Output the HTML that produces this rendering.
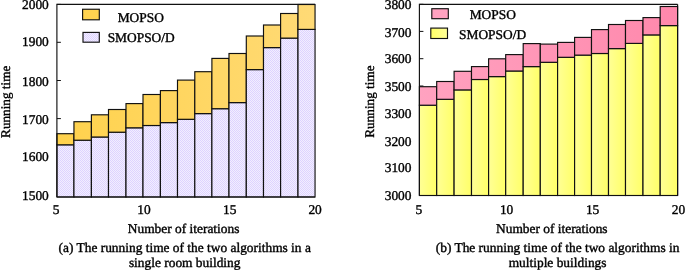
<!DOCTYPE html>
<html><head><meta charset="utf-8"><style>
html,body{margin:0;padding:0;background:#fff;}
body{width:685px;height:271px;overflow:hidden;}
svg{display:block;font-family:"Liberation Serif", serif;font-size:13.4px;fill:#000;will-change:transform;}
svg text{fill:#000;stroke:#000;stroke-width:0.38px;text-rendering:geometricPrecision;}
</style></head><body>
<svg width="685" height="271" viewBox="0 0 685 271">
<defs>
<pattern id="lav" width="2" height="2" patternUnits="userSpaceOnUse">
<rect width="2" height="2" fill="#F2EEFF"/><rect width="1" height="1" fill="#DED3FF"/><rect x="1" y="1" width="1" height="1" fill="#DED3FF"/>
</pattern>
<linearGradient id="yel" x1="0" y1="0" x2="1" y2="0">
<stop offset="0" stop-color="#FFFF96"/><stop offset="1" stop-color="#FFFF68"/>
</linearGradient>
<linearGradient id="yelL" x1="0" y1="0" x2="1" y2="0">
<stop offset="0" stop-color="#FFFF66"/><stop offset="1" stop-color="#FFFF9A"/>
</linearGradient>
<linearGradient id="org" gradientUnits="userSpaceOnUse" x1="56.9" y1="0" x2="315.05" y2="0">
<stop offset="0" stop-color="#FFD24C"/><stop offset="1" stop-color="#FFDA76"/>
</linearGradient>
<linearGradient id="pnk" gradientUnits="userSpaceOnUse" x1="419.4" y1="0" x2="677.6" y2="0">
<stop offset="0" stop-color="#FFA2C0"/><stop offset="1" stop-color="#FF88AC"/>
</linearGradient>
</defs>
<path d="M56.9 4.4 L60.9 4.4" stroke="#111" stroke-width="1"/>
<path d="M56.9 42.3 L60.9 42.3" stroke="#111" stroke-width="1"/>
<path d="M56.9 80.5 L60.9 80.5" stroke="#111" stroke-width="1"/>
<path d="M56.9 118.6 L60.9 118.6" stroke="#111" stroke-width="1"/>
<path d="M56.9 157.0 L60.9 157.0" stroke="#111" stroke-width="1"/>
<path d="M56.9 195.4 L60.9 195.4" stroke="#111" stroke-width="1"/>
<rect x="56.90" y="144.80" width="17.05" height="52.20" fill="url(#lav)" stroke="#111" stroke-width="1.15"/>
<rect x="56.90" y="133.70" width="17.05" height="11.10" fill="url(#org)" stroke="#111" stroke-width="1.15"/>
<rect x="73.95" y="140.20" width="17.45" height="56.80" fill="url(#lav)" stroke="#111" stroke-width="1.15"/>
<rect x="73.95" y="121.70" width="17.45" height="18.50" fill="url(#org)" stroke="#111" stroke-width="1.15"/>
<rect x="91.40" y="137.00" width="17.10" height="60.00" fill="url(#lav)" stroke="#111" stroke-width="1.15"/>
<rect x="91.40" y="114.80" width="17.10" height="22.20" fill="url(#org)" stroke="#111" stroke-width="1.15"/>
<rect x="108.50" y="132.20" width="17.50" height="64.80" fill="url(#lav)" stroke="#111" stroke-width="1.15"/>
<rect x="108.50" y="109.50" width="17.50" height="22.70" fill="url(#org)" stroke="#111" stroke-width="1.15"/>
<rect x="126.00" y="127.80" width="17.00" height="69.20" fill="url(#lav)" stroke="#111" stroke-width="1.15"/>
<rect x="126.00" y="103.60" width="17.00" height="24.20" fill="url(#org)" stroke="#111" stroke-width="1.15"/>
<rect x="143.00" y="125.50" width="17.40" height="71.50" fill="url(#lav)" stroke="#111" stroke-width="1.15"/>
<rect x="143.00" y="94.50" width="17.40" height="31.00" fill="url(#org)" stroke="#111" stroke-width="1.15"/>
<rect x="160.40" y="122.60" width="17.10" height="74.40" fill="url(#lav)" stroke="#111" stroke-width="1.15"/>
<rect x="160.40" y="90.60" width="17.10" height="32.00" fill="url(#org)" stroke="#111" stroke-width="1.15"/>
<rect x="177.50" y="119.30" width="17.30" height="77.70" fill="url(#lav)" stroke="#111" stroke-width="1.15"/>
<rect x="177.50" y="80.10" width="17.30" height="39.20" fill="url(#org)" stroke="#111" stroke-width="1.15"/>
<rect x="194.80" y="113.60" width="17.10" height="83.40" fill="url(#lav)" stroke="#111" stroke-width="1.15"/>
<rect x="194.80" y="71.70" width="17.10" height="41.90" fill="url(#org)" stroke="#111" stroke-width="1.15"/>
<rect x="211.90" y="108.70" width="17.10" height="88.30" fill="url(#lav)" stroke="#111" stroke-width="1.15"/>
<rect x="211.90" y="58.40" width="17.10" height="50.30" fill="url(#org)" stroke="#111" stroke-width="1.15"/>
<rect x="229.00" y="102.60" width="17.30" height="94.40" fill="url(#lav)" stroke="#111" stroke-width="1.15"/>
<rect x="229.00" y="53.50" width="17.30" height="49.10" fill="url(#org)" stroke="#111" stroke-width="1.15"/>
<rect x="246.30" y="69.60" width="17.20" height="127.40" fill="url(#lav)" stroke="#111" stroke-width="1.15"/>
<rect x="246.30" y="36.00" width="17.20" height="33.60" fill="url(#org)" stroke="#111" stroke-width="1.15"/>
<rect x="263.50" y="47.60" width="17.10" height="149.40" fill="url(#lav)" stroke="#111" stroke-width="1.15"/>
<rect x="263.50" y="25.00" width="17.10" height="22.60" fill="url(#org)" stroke="#111" stroke-width="1.15"/>
<rect x="280.60" y="38.10" width="17.40" height="158.90" fill="url(#lav)" stroke="#111" stroke-width="1.15"/>
<rect x="280.60" y="13.50" width="17.40" height="24.60" fill="url(#org)" stroke="#111" stroke-width="1.15"/>
<rect x="298.00" y="29.40" width="17.05" height="167.60" fill="url(#lav)" stroke="#111" stroke-width="1.15"/>
<rect x="298.00" y="4.50" width="17.05" height="24.90" fill="url(#org)" stroke="#111" stroke-width="1.15"/>
<path d="M56.9 197.0 L56.9 4.4 L315.05 4.4" fill="none" stroke="#111" stroke-width="1.15"/>
<path d="M56.9 197.0 L315.05 197.0" fill="none" stroke="#111" stroke-width="1.15"/>
<text x="48.8" y="9.00" text-anchor="end">2000</text>
<text x="48.8" y="46.00" text-anchor="end">1900</text>
<text x="48.8" y="86.00" text-anchor="end">1800</text>
<text x="48.8" y="124.00" text-anchor="end">1700</text>
<text x="48.8" y="161.00" text-anchor="end">1600</text>
<text x="48.8" y="200.00" text-anchor="end">1500</text>
<text x="56.1" y="213.6" text-anchor="middle">5</text>
<text x="144.0" y="213.6" text-anchor="middle">10</text>
<text x="229.7" y="213.6" text-anchor="middle">15</text>
<text x="315.1" y="213.6" text-anchor="middle">20</text>
<text x="183.6" y="232.6" text-anchor="middle">Number of iterations</text>
<text x="184.7" y="251.9" text-anchor="middle">(a) The running time of the two algorithms in a</text>
<text x="184.7" y="267.3" text-anchor="middle">single room building</text>
<text transform="translate(9.9 101.8) rotate(-90)" x="0" y="0" text-anchor="middle" style="font-size:13.2px">Running time</text>
<rect x="82.60" y="9.25" width="16.70" height="10.55" fill="#FFD350" stroke="#111" stroke-width="1.15"/>
<rect x="83.00" y="32.40" width="16.30" height="9.80" fill="url(#lav)" stroke="#111" stroke-width="1.15"/>
<text x="140.75" y="21.9" text-anchor="middle">MOPSO</text>
<text x="141.15" y="41.8" text-anchor="middle">SMOPSO/D</text>
<path d="M419.4 4.3 L423.4 4.3" stroke="#111" stroke-width="1"/>
<path d="M419.4 31.4 L423.4 31.4" stroke="#111" stroke-width="1"/>
<path d="M419.4 58.7 L423.4 58.7" stroke="#111" stroke-width="1"/>
<path d="M419.4 86.0 L423.4 86.0" stroke="#111" stroke-width="1"/>
<path d="M419.4 113.3 L423.4 113.3" stroke="#111" stroke-width="1"/>
<path d="M419.4 140.6 L423.4 140.6" stroke="#111" stroke-width="1"/>
<path d="M419.4 167.9 L423.4 167.9" stroke="#111" stroke-width="1"/>
<path d="M419.4 195.2 L423.4 195.2" stroke="#111" stroke-width="1"/>
<rect x="419.40" y="105.20" width="17.30" height="90.30" fill="url(#yel)" stroke="#111" stroke-width="1.15"/>
<rect x="419.40" y="86.70" width="17.30" height="18.50" fill="url(#pnk)" stroke="#111" stroke-width="1.15"/>
<rect x="436.70" y="99.30" width="17.40" height="96.20" fill="url(#yel)" stroke="#111" stroke-width="1.15"/>
<rect x="436.70" y="81.50" width="17.40" height="17.80" fill="url(#pnk)" stroke="#111" stroke-width="1.15"/>
<rect x="454.10" y="89.90" width="17.40" height="105.60" fill="url(#yel)" stroke="#111" stroke-width="1.15"/>
<rect x="454.10" y="71.30" width="17.40" height="18.60" fill="url(#pnk)" stroke="#111" stroke-width="1.15"/>
<rect x="471.50" y="79.50" width="17.10" height="116.00" fill="url(#yel)" stroke="#111" stroke-width="1.15"/>
<rect x="471.50" y="66.60" width="17.10" height="12.90" fill="url(#pnk)" stroke="#111" stroke-width="1.15"/>
<rect x="488.60" y="76.60" width="17.10" height="118.90" fill="url(#yel)" stroke="#111" stroke-width="1.15"/>
<rect x="488.60" y="58.80" width="17.10" height="17.80" fill="url(#pnk)" stroke="#111" stroke-width="1.15"/>
<rect x="505.70" y="71.00" width="17.50" height="124.50" fill="url(#yel)" stroke="#111" stroke-width="1.15"/>
<rect x="505.70" y="54.60" width="17.50" height="16.40" fill="url(#pnk)" stroke="#111" stroke-width="1.15"/>
<rect x="523.20" y="66.60" width="17.10" height="128.90" fill="url(#yel)" stroke="#111" stroke-width="1.15"/>
<rect x="523.20" y="43.60" width="17.10" height="23.00" fill="url(#pnk)" stroke="#111" stroke-width="1.15"/>
<rect x="540.30" y="62.30" width="17.30" height="133.20" fill="url(#yel)" stroke="#111" stroke-width="1.15"/>
<rect x="540.30" y="44.10" width="17.30" height="18.20" fill="url(#pnk)" stroke="#111" stroke-width="1.15"/>
<rect x="557.60" y="57.30" width="17.00" height="138.20" fill="url(#yel)" stroke="#111" stroke-width="1.15"/>
<rect x="557.60" y="42.40" width="17.00" height="14.90" fill="url(#pnk)" stroke="#111" stroke-width="1.15"/>
<rect x="574.60" y="55.10" width="16.90" height="140.40" fill="url(#yel)" stroke="#111" stroke-width="1.15"/>
<rect x="574.60" y="37.40" width="16.90" height="17.70" fill="url(#pnk)" stroke="#111" stroke-width="1.15"/>
<rect x="591.50" y="53.50" width="17.00" height="142.00" fill="url(#yel)" stroke="#111" stroke-width="1.15"/>
<rect x="591.50" y="29.60" width="17.00" height="23.90" fill="url(#pnk)" stroke="#111" stroke-width="1.15"/>
<rect x="608.50" y="48.60" width="17.00" height="146.90" fill="url(#yel)" stroke="#111" stroke-width="1.15"/>
<rect x="608.50" y="24.50" width="17.00" height="24.10" fill="url(#pnk)" stroke="#111" stroke-width="1.15"/>
<rect x="625.50" y="43.40" width="17.50" height="152.10" fill="url(#yel)" stroke="#111" stroke-width="1.15"/>
<rect x="625.50" y="20.50" width="17.50" height="22.90" fill="url(#pnk)" stroke="#111" stroke-width="1.15"/>
<rect x="643.00" y="34.90" width="17.20" height="160.60" fill="url(#yel)" stroke="#111" stroke-width="1.15"/>
<rect x="643.00" y="17.60" width="17.20" height="17.30" fill="url(#pnk)" stroke="#111" stroke-width="1.15"/>
<rect x="660.20" y="25.60" width="17.40" height="169.90" fill="url(#yel)" stroke="#111" stroke-width="1.15"/>
<rect x="660.20" y="6.50" width="17.40" height="19.10" fill="url(#pnk)" stroke="#111" stroke-width="1.15"/>
<path d="M419.4 195.5 L419.4 4.3 L677.6 4.3" fill="none" stroke="#111" stroke-width="1.15"/>
<path d="M419.4 195.5 L677.6 195.5" fill="none" stroke="#111" stroke-width="1.15"/>
<path d="M677.6 4.3 L677.6 195.5" fill="none" stroke="#111" stroke-width="1.15"/>
<text x="411.5" y="9.00" text-anchor="end">3800</text>
<text x="411.5" y="37.00" text-anchor="end">3700</text>
<text x="411.5" y="63.00" text-anchor="end">3600</text>
<text x="411.5" y="91.00" text-anchor="end">3500</text>
<text x="411.5" y="118.00" text-anchor="end">3300</text>
<text x="411.5" y="146.00" text-anchor="end">3200</text>
<text x="411.5" y="172.00" text-anchor="end">3100</text>
<text x="411.5" y="200.00" text-anchor="end">3000</text>
<text x="418.8" y="213.6" text-anchor="middle">5</text>
<text x="506.6" y="213.6" text-anchor="middle">10</text>
<text x="592.6" y="213.6" text-anchor="middle">15</text>
<text x="678.4" y="213.6" text-anchor="middle">20</text>
<text x="551.8" y="232.6" text-anchor="middle">Number of iterations</text>
<text x="557.6" y="251.9" text-anchor="middle">(b) The running time of the two algorithms in</text>
<text x="557.6" y="267.3" text-anchor="middle">multiple buildings</text>
<text transform="translate(373.9 101.6) rotate(-90)" x="0" y="0" text-anchor="middle" style="font-size:13.2px">Running time</text>
<rect x="431.80" y="8.70" width="16.50" height="10.00" fill="#FFA2C0" stroke="#111" stroke-width="1.15"/>
<rect x="430.80" y="28.10" width="16.70" height="10.40" fill="url(#yelL)" stroke="#111" stroke-width="1.15"/>
<text x="492.75" y="19.3" text-anchor="middle">MOPSO</text>
<text x="492.6" y="39.1" text-anchor="middle">SMOPSO/D</text>
</svg>
</body></html>
